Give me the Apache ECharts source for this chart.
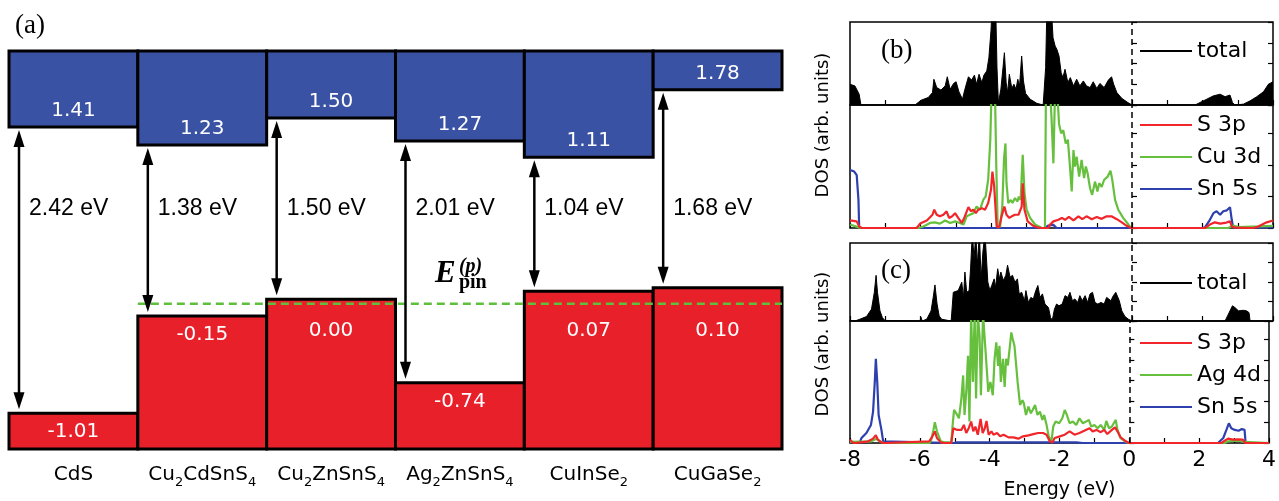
<!DOCTYPE html>
<html>
<head>
<meta charset="utf-8">
<script src="https://cdn.jsdelivr.net/npm/echarts@6/dist/echarts.min.js"></script>
<style>
  html, body { margin: 0; padding: 0; background: #fff; }
  #chart { width: 1279px; height: 501px; }
</style>
</head>
<body>
<div id="chart"></div>
<script>
// ---- panel (a): band alignment ----
const materials = ['CdS', 'Cu2CdSnS4', 'Cu2ZnSnS4', 'Ag2ZnSnS4', 'CuInSe2', 'CuGaSe2'];
const vbm = [-1.01, -0.15, 0.00, -0.74, 0.07, 0.10];
const cbm = [1.41, 1.23, 1.50, 1.27, 1.11, 1.78];
const gaps = [2.42, 1.38, 1.50, 2.01, 1.04, 1.68];
const pinLevel = -0.04;

// ---- panels (b), (c): DOS, [energy eV, DOS arb.] ----
const bTotal = [[-8,1.0],[-7.86,0.92],[-7.74,0.52],[-7.69,0],[-6.16,0],[-5.97,0.24],[-5.78,0.36],[-5.66,0.6],[-5.62,1.24],[-5.54,0.84],[-5.42,0.72],[-5.3,0.92],[-5.24,1.36],[-5.16,0.76],[-5.06,1.04],[-4.99,1.12],[-4.91,0.64],[-4.81,0.28],[-4.74,0.76],[-4.64,1.36],[-4.55,1.2],[-4.47,1.44],[-4.41,1.0],[-4.34,1.48],[-4.26,1.08],[-4.2,1.44],[-4.12,1.64],[-4.06,2.28],[-4.0,3.6],[-3.96,5],[-3.87,5],[-3.83,1.8],[-3.79,0.08],[-3.72,0.76],[-3.66,1.8],[-3.62,2.52],[-3.57,1.08],[-3.53,0.6],[-3.48,1.48],[-3.41,0.8],[-3.35,1.0],[-3.29,0.76],[-3.24,1.24],[-3.19,0.92],[-3.13,2.36],[-3.08,1.16],[-3.02,0.56],[-2.89,0.28],[-2.7,0.08],[-2.52,0],[-2.45,1.8],[-2.41,5],[-2.3,5],[-2.24,3.24],[-2.18,2.84],[-2.13,2.68],[-2.07,2.36],[-2.01,1.56],[-1.96,1.32],[-1.9,1.72],[-1.82,1.08],[-1.75,1.32],[-1.66,0.92],[-1.57,1.24],[-1.48,0.92],[-1.38,1.16],[-1.29,0.92],[-1.19,0.84],[-1.1,1.12],[-1.0,0.8],[-0.91,1.04],[-0.79,0.84],[-0.67,1.2],[-0.58,1.36],[-0.52,1.0],[-0.43,0.6],[-0.29,0.32],[-0.12,0.12],[0,0],[1.79,0],[1.93,0.12],[2.12,0.28],[2.31,0.44],[2.5,0.52],[2.64,0.4],[2.78,0.48],[2.85,0.12],[2.92,0],[3.16,0.04],[3.35,0.2],[3.54,0.4],[3.73,0.64],[3.87,1.0],[4,1.12]];
const bS3p = [[-8,0.24],[-7.81,0.21],[-7.74,0.05],[-7.67,0],[-6.11,0],[-6.01,0.14],[-5.82,0.24],[-5.66,0.42],[-5.61,0.58],[-5.54,0.42],[-5.45,0.37],[-5.35,0.42],[-5.26,0.53],[-5.19,0.32],[-5.1,0.37],[-5.02,0.47],[-4.93,0.32],[-4.83,0.16],[-4.76,0.32],[-4.64,0.66],[-4.57,0.53],[-4.5,0.58],[-4.43,0.47],[-4.36,0.58],[-4.26,0.63],[-4.17,0.58],[-4.08,0.79],[-4.0,1.21],[-3.96,1.79],[-3.91,1.32],[-3.84,0.05],[-3.77,0.02],[-3.7,0.37],[-3.62,0.68],[-3.56,0.42],[-3.48,0.32],[-3.41,0.37],[-3.32,0.42],[-3.22,0.42],[-3.13,0.68],[-3.1,1.42],[-3.05,0.58],[-2.96,0.21],[-2.8,0.07],[-2.66,0.01],[-2.56,0],[-2.37,0],[-2.33,0.1],[-2.23,0.21],[-2.09,0.26],[-1.99,0.32],[-1.9,0.26],[-1.79,0.35],[-1.66,0.24],[-1.52,0.37],[-1.41,0.28],[-1.29,0.37],[-1.14,0.28],[-1.0,0.35],[-0.86,0.29],[-0.72,0.37],[-0.58,0.37],[-0.43,0.28],[-0.29,0.18],[-0.15,0.07],[-0.03,0],[2.07,0],[2.21,0.11],[2.35,0.18],[2.5,0.14],[2.64,0.16],[2.78,0.21],[2.83,0.05],[2.92,0.01],[3.44,0],[3.58,0.05],[3.82,0.18],[4,0.24]];
const bCu3d = [[-8,0.11],[-7.76,0.02],[-7.67,0],[-6.06,0],[-5.92,0.05],[-5.73,0.16],[-5.59,0.18],[-5.45,0.14],[-5.3,0.24],[-5.16,0.16],[-5.02,0.21],[-4.88,0.16],[-4.78,0.11],[-4.69,0.37],[-4.6,0.42],[-4.5,0.47],[-4.41,0.68],[-4.31,0.58],[-4.22,0.89],[-4.15,1.0],[-4.08,1.53],[-4.02,2.8],[-3.98,4.5],[-3.89,4.5],[-3.85,1.95],[-3.81,0.02],[-3.74,0.05],[-3.68,0.68],[-3.63,2.21],[-3.59,2.68],[-3.56,1.42],[-3.51,0.79],[-3.44,0.89],[-3.39,0.79],[-3.32,0.95],[-3.25,0.84],[-3.21,1.0],[-3.16,0.89],[-3.1,2.32],[-3.05,1.11],[-2.99,0.58],[-2.89,0.32],[-2.75,0.11],[-2.56,0],[-2.47,0],[-2.44,4.5],[-2.33,4.5],[-2.28,3.42],[-2.23,2.05],[-2.18,4.5],[-2.12,4.3],[-2.07,3.3],[-2.01,3.0],[-1.95,3.1],[-1.88,2.68],[-1.82,2.8],[-1.76,1.95],[-1.71,1.16],[-1.66,2.47],[-1.62,1.95],[-1.57,2.26],[-1.5,1.63],[-1.43,2.16],[-1.36,1.58],[-1.31,1.95],[-1.26,1.74],[-1.19,1.26],[-1.13,1.05],[-1.05,1.47],[-0.98,1.16],[-0.93,1.42],[-0.86,1.3],[-0.79,1.53],[-0.69,1.63],[-0.61,1.82],[-0.56,1.53],[-0.48,0.89],[-0.39,0.58],[-0.25,0.32],[-0.1,0.11],[-0.03,0],[2.73,0],[2.87,0.08],[3.02,0.03],[3.58,0.05],[4,0.07]];
const bSn5s = [[-8,1.84],[-7.88,1.79],[-7.81,1.68],[-7.76,0.89],[-7.74,0.02],[-7.67,0],[-2.47,0],[-2.37,0.08],[-2.23,0.1],[-2.14,0],[1.98,0],[2.07,0.02],[2.21,0.26],[2.31,0.47],[2.4,0.53],[2.5,0.42],[2.59,0.53],[2.69,0.56],[2.78,0.66],[2.83,0.26],[2.87,0.01],[4,0.02]];

const cTotal = [[-8,0],[-7.86,0],[-7.72,0.09],[-7.53,0.23],[-7.39,0.61],[-7.31,1.47],[-7.26,2.34],[-7.22,1.47],[-7.15,0.52],[-7.08,0.17],[-7.01,0.03],[-6.96,0],[-6.01,0],[-5.99,0.2],[-5.95,0],[-5.82,0.1],[-5.78,0.17],[-5.7,0.52],[-5.64,1.21],[-5.59,1.85],[-5.53,0.87],[-5.47,0.26],[-5.4,0.09],[-5.13,0],[-5.1,0],[-5.07,1.47],[-5.02,1.39],[-4.93,1.56],[-4.88,1.65],[-4.83,1.99],[-4.78,1.21],[-4.74,2.51],[-4.69,1.47],[-4.62,1.56],[-4.58,2.68],[-4.53,4.5],[-4.48,3.2],[-4.43,4.5],[-4.39,2.86],[-4.33,4.5],[-4.28,2.16],[-4.23,3.55],[-4.17,4.5],[-4.12,4.5],[-4.09,2.0],[-4.03,1.56],[-3.98,1.82],[-3.91,2.16],[-3.87,1.73],[-3.81,2.68],[-3.76,2.16],[-3.72,2.51],[-3.65,2.08],[-3.58,2.34],[-3.53,2.86],[-3.46,2.25],[-3.39,2.34],[-3.32,1.99],[-3.25,2.16],[-3.2,1.39],[-3.13,1.47],[-3.05,1.04],[-3.01,1.56],[-2.94,0.95],[-2.87,1.21],[-2.8,1.13],[-2.73,1.56],[-2.67,1.82],[-2.61,1.21],[-2.54,1.39],[-2.47,0.87],[-2.37,0.69],[-2.31,0.17],[-2.26,0.05],[-2.2,0.61],[-2.14,0.87],[-2.07,0.78],[-1.98,0.87],[-1.9,1.3],[-1.82,1.21],[-1.76,1.47],[-1.69,1.04],[-1.62,1.13],[-1.54,0.95],[-1.48,1.3],[-1.41,1.04],[-1.33,1.3],[-1.26,0.95],[-1.19,1.39],[-1.12,1.47],[-1.05,0.95],[-0.97,0.87],[-0.88,0.95],[-0.79,0.87],[-0.72,1.21],[-0.66,1.13],[-0.6,1.04],[-0.53,1.3],[-0.46,1.47],[-0.41,1.56],[-0.36,1.04],[-0.29,0.52],[-0.2,0.23],[-0.1,0.09],[0,0],[2.64,0],[2.71,0.26],[2.78,0.52],[2.85,0.78],[2.92,0.69],[3.02,0.52],[3.16,0.55],[3.25,0.52],[3.32,0.43],[3.35,0],[4,0]];
const cS3p = [[-8,0.16],[-7.93,0.03],[-7.86,0],[-7.48,0.08],[-7.34,0.21],[-7.26,0.37],[-7.2,0.16],[-7.1,0.03],[-7.03,0],[-5.73,0.08],[-5.64,0.32],[-5.57,0.56],[-5.51,0.24],[-5.4,0.03],[-5.3,0],[-5.1,0],[-5.04,0.71],[-4.93,0.63],[-4.81,0.63],[-4.74,0.87],[-4.67,0.48],[-4.6,0.71],[-4.53,1.03],[-4.47,0.56],[-4.41,0.79],[-4.34,0.4],[-4.26,1.16],[-4.2,0.48],[-4.14,0.71],[-4.09,1.06],[-4.03,0.4],[-3.95,0.56],[-3.89,0.4],[-3.79,0.48],[-3.7,0.32],[-3.6,0.4],[-3.46,0.27],[-3.32,0.27],[-3.18,0.21],[-3.04,0.32],[-2.89,0.37],[-2.75,0.43],[-2.61,0.48],[-2.47,0.48],[-2.37,0.4],[-2.28,0.08],[-2.2,0.03],[-2.14,0.24],[-1.99,0.32],[-1.85,0.4],[-1.71,0.56],[-1.57,0.4],[-1.43,0.48],[-1.29,0.59],[-1.14,0.71],[-1.05,0.56],[-0.94,0.63],[-0.82,0.52],[-0.72,0.63],[-0.63,0.43],[-0.5,0.63],[-0.41,0.75],[-0.34,0.56],[-0.25,0.27],[-0.1,0.08],[-0.01,0],[2.64,0],[2.73,0.11],[2.83,0.21],[2.97,0.16],[3.11,0.17],[3.25,0.16],[3.32,0],[4,0]];
const cAg4d = [[-8,0.05],[-7.39,0.08],[-7.24,0.2],[-7.15,0.08],[-7.03,0],[-5.73,0],[-5.68,0.11],[-5.61,0.63],[-5.57,1.0],[-5.51,0.56],[-5.4,0.08],[-5.3,0.03],[-5.1,0.03],[-5.06,0.87],[-5.02,1.59],[-4.93,1.35],[-4.88,1.19],[-4.81,2.14],[-4.76,3.25],[-4.72,1.35],[-4.67,2.46],[-4.62,4.2],[-4.58,1.03],[-4.53,6.2],[-4.48,2.94],[-4.43,6.2],[-4.39,2.14],[-4.34,6.2],[-4.29,5.16],[-4.25,2.3],[-4.19,6.2],[-4.14,6.2],[-4.09,3.73],[-4.04,2.46],[-3.98,2.94],[-3.91,2.3],[-3.86,4.05],[-3.81,4.84],[-3.76,3.71],[-3.72,4.68],[-3.68,2.94],[-3.62,4.05],[-3.57,2.7],[-3.53,4.05],[-3.48,3.73],[-3.43,4.52],[-3.38,5.32],[-3.34,5.0],[-3.29,4.68],[-3.24,3.73],[-3.2,2.94],[-3.13,1.83],[-3.06,2.06],[-3.02,1.9],[-2.96,1.35],[-2.89,1.75],[-2.82,1.43],[-2.77,1.59],[-2.7,1.83],[-2.63,1.35],[-2.56,1.51],[-2.49,1.11],[-2.44,1.35],[-2.37,0.87],[-2.31,0.32],[-2.23,0.08],[-2.18,0.79],[-2.11,1.03],[-2.01,0.95],[-1.92,1.19],[-1.85,1.59],[-1.79,1.35],[-1.71,0.95],[-1.62,1.03],[-1.52,0.87],[-1.43,1.19],[-1.33,0.95],[-1.24,1.03],[-1.16,1.11],[-1.09,0.79],[-1.0,0.87],[-0.91,0.71],[-0.82,0.87],[-0.72,0.63],[-0.66,1.06],[-0.58,0.71],[-0.5,0.79],[-0.43,1.0],[-0.39,1.11],[-0.34,0.63],[-0.25,0.24],[-0.1,0.05],[-0.01,0],[2.73,0],[2.83,0.08],[3.11,0.11],[3.3,0.05],[3.33,0],[4,0]];
const cSn5s = [[-8,0.05],[-7.72,0.03],[-7.67,0.24],[-7.53,0.48],[-7.4,0.87],[-7.34,1.5],[-7.29,2.94],[-7.26,4.05],[-7.22,2.94],[-7.18,1.35],[-7.1,0.63],[-7.05,0.08],[-7.03,0],[-5.02,0],[-4.93,0.03],[-1.52,0.03],[-1.33,0],[2.54,0],[2.69,0.24],[2.78,0.63],[2.85,0.95],[2.92,0.71],[3.02,0.63],[3.13,0.59],[3.22,0.67],[3.3,0.63],[3.33,0],[4,0]];

const BLUE = '#3a52a3', RED = '#e8202a', PIN = '#5fbf3c';
const C_S = '#f0262a', C_D = '#66c03e', C_SN = '#2e3fae';
const SANS = '"DejaVu Sans", sans-serif';
const SERIF = '"Liberation Serif", "DejaVu Serif", serif';

const chart = echarts.init(document.getElementById('chart'), null, { renderer: 'canvas' });

function vbBox(params, api) {
  const i = api.value(0), v = api.value(1);
  const p = api.coord([i, v]);
  const w = api.size([1, 0])[0];
  const cs = params.coordSys;
  const bottom = cs.y + cs.height;
  const ly = Math.max(p[1] + 19, api.coord([i, -0.28])[1]);
  return { type: 'group', children: [
    { type: 'rect', shape: { x: p[0] - w / 2, y: p[1], width: w, height: bottom - p[1] },
      style: { fill: RED, stroke: '#000', lineWidth: 3 } },
    { type: 'text', style: { text: v.toFixed(2), x: p[0], y: ly, align: 'center', verticalAlign: 'middle',
      fill: '#fff', font: '20px ' + SANS } }
  ]};
}

function cbBox(params, api) {
  const i = api.value(0), v = api.value(1);
  const p = api.coord([i, v]);
  const w = api.size([1, 0])[0];
  const cs = params.coordSys;
  return { type: 'group', children: [
    { type: 'rect', shape: { x: p[0] - w / 2, y: cs.y, width: w, height: p[1] - cs.y },
      style: { fill: BLUE, stroke: '#000', lineWidth: 3 } },
    { type: 'text', style: { text: v.toFixed(2), x: p[0], y: p[1] - 16, align: 'center', verticalAlign: 'middle',
      fill: '#fff', font: '20px ' + SANS } }
  ]};
}

// upper half of the gap arrow (hangs from the CBM, yAxis 1) + its label
function arrowUp(params, api) {
  const i = api.value(0), v = api.value(1), g = api.value(2);
  const p = api.coord([i, v]);
  const w = api.size([1, 0])[0];
  const cs = params.coordSys;
  const x = p[0] - w / 2 + 10;
  const tip = p[1] + 3;
  const mid = cs.y + cs.height * 0.5;
  return { type: 'group', children: [
    { type: 'polygon', shape: { points: [[x, tip], [x - 5.5, tip + 17], [x + 5.5, tip + 17]] }, style: { fill: '#000' } },
    { type: 'line', shape: { x1: x, y1: tip + 12, x2: x, y2: mid }, style: { stroke: '#000', lineWidth: 2.5 } },
    { type: 'text', style: { text: g.toFixed(2) + ' eV', x: x + 10, y: cs.y + cs.height * 0.395,
      align: 'left', verticalAlign: 'middle', fill: '#000', font: '23px "Liberation Sans", Arial, sans-serif' } }
  ]};
}

// lower half of the gap arrow (down to the VBM, yAxis 0)
function arrowDown(params, api) {
  const i = api.value(0), v = api.value(1);
  const p = api.coord([i, v]);
  const w = api.size([1, 0])[0];
  const cs = params.coordSys;
  const x = p[0] - w / 2 + 10;
  const tip = p[1] - 4;
  const mid = cs.y + cs.height * 0.5;
  return { type: 'group', children: [
    { type: 'line', shape: { x1: x, y1: mid, x2: x, y2: tip - 12 }, style: { stroke: '#000', lineWidth: 2.5 } },
    { type: 'polygon', shape: { points: [[x, tip], [x - 5.5, tip - 17], [x + 5.5, tip - 17]] }, style: { fill: '#000' } }
  ]};
}

function pinLine(params, api) {
  const v = api.value(1);
  const w = api.size([1, 0])[0];
  const cs = params.coordSys;
  const start = api.coord([1, v]);
  const lab = api.coord([3, v]);
  const ex = lab[0] - 25, ey = lab[1] - 14;
  return { type: 'group', children: [
    { type: 'line', shape: { x1: start[0] - w / 2, y1: start[1], x2: cs.x + cs.width, y2: start[1] },
      style: { stroke: PIN, lineWidth: 2.5, lineDash: [8, 5] } },
    { type: 'text', style: { text: 'E', x: ex, y: ey, align: 'left', verticalAlign: 'bottom',
      fill: '#000', font: 'italic bold 31px ' + SERIF } },
    { type: 'text', style: { text: '(p)', x: ex + 24, y: ey - 13, align: 'left', verticalAlign: 'bottom',
      fill: '#000', font: 'italic bold 20px ' + SERIF } },
    { type: 'text', style: { text: 'pin', x: ex + 24, y: ey + 3, align: 'left', verticalAlign: 'bottom',
      fill: '#000', font: 'bold 20px ' + SERIF } }
  ]};
}

function subLabel(name) {
  return name.split(/(\d)/).filter(Boolean)
    .map(p => /\d/.test(p) ? '{s|' + p + '}' : '{n|' + p + '}').join('');
}

// DOS sub-panels: grid index 1..4
const dosPanels = [
  { top: 22, height: 83, max: 4 },
  { top: 105, height: 123, max: 3.9 },
  { top: 243, height: 78, max: 4 },
  { top: 321, height: 125, max: 5.87 }
];

const grids = [{ left: 9, top: 51, width: 773, height: 398 }]
  .concat(dosPanels.map(d => ({ left: 850, width: 423, top: d.top, height: d.height,
    show: true, borderColor: '#000', borderWidth: 1.5, backgroundColor: 'transparent' })));

const xAxes = [{
  type: 'category', gridIndex: 0, data: materials,
  axisLine: { show: false }, axisTick: { show: false },
  axisLabel: { interval: 0, margin: 14, fontSize: 20, formatter: subLabel, rich: {
    n: { fontSize: 20, fontFamily: SANS, color: '#000', lineHeight: 24 },
    s: { fontSize: 13, fontFamily: SANS, color: '#000', lineHeight: 24, padding: [16, 0, 0, 0] }
  } }
}].concat(dosPanels.map((d, k) => ({
  type: 'value', gridIndex: k + 1, min: -8, max: 4, interval: 1,
  axisLine: { show: false }, splitLine: { show: false },
  axisTick: { inside: true, length: 5, lineStyle: { color: '#000', width: 1.2 } },
  axisLabel: { show: k === 3, margin: 6, fontSize: 22, fontFamily: SANS, color: '#000',
    formatter: v => (v % 2 === 0 ? String(v) : '') },
  name: k === 3 ? 'Energy (eV)' : '', nameLocation: 'middle', nameGap: 38,
  nameTextStyle: { fontSize: 19, fontFamily: SANS, color: '#000' }
})));

const yAxes = [
  // valence-band scale and conduction-band scale of panel (a)
  { type: 'value', gridIndex: 0, min: -1.326, max: 2.196, show: false },
  { type: 'value', gridIndex: 0, min: -1.791, max: 2.165, show: false }
];
dosPanels.forEach((d, k) => {
  ['left', 'right'].forEach(pos => yAxes.push({
    type: 'value', gridIndex: k + 1, position: pos, min: 0, max: d.max, interval: 1,
    axisLine: { show: false }, splitLine: { show: false }, axisLabel: { show: false },
    axisTick: { inside: true, length: 5, lineStyle: { color: '#000', width: 1.2 } }
  }));
});

const zeroLine = {
  silent: true, symbol: 'none', label: { show: false },
  lineStyle: { color: '#000', type: [6, 4], width: 1.5 },
  data: [{ xAxis: 0 }]
};

function dosLine(name, data, color, k, extra) {
  return Object.assign({
    name, type: 'line', data, xAxisIndex: k + 1, yAxisIndex: 2 + 2 * k,
    symbol: 'none', clip: true, lineStyle: { color, width: 2.2 }, itemStyle: { color }
  }, extra || {});
}

const series = [
  { type: 'custom', xAxisIndex: 0, yAxisIndex: 1, renderItem: cbBox,
    data: cbm.map((v, i) => [i, v]), encode: { x: 0, y: 1 } },
  { type: 'custom', xAxisIndex: 0, yAxisIndex: 0, renderItem: vbBox,
    data: vbm.map((v, i) => [i, v]), encode: { x: 0, y: 1 } },
  { type: 'custom', xAxisIndex: 0, yAxisIndex: 0, renderItem: pinLine,
    data: [[1, pinLevel]], encode: { x: 0, y: 1 }, z: 5 },
  { type: 'custom', xAxisIndex: 0, yAxisIndex: 1, renderItem: arrowUp,
    data: cbm.map((v, i) => [i, v, gaps[i]]), encode: { x: 0, y: 1 }, z: 6 },
  { type: 'custom', xAxisIndex: 0, yAxisIndex: 0, renderItem: arrowDown,
    data: vbm.map((v, i) => [i, v]), encode: { x: 0, y: 1 }, z: 6 },

  dosLine('total', bTotal, '#000', 0, { lineStyle: { color: '#000', width: 1 },
    areaStyle: { color: '#000', opacity: 1 }, markLine: zeroLine }),
  dosLine('Sn 5s', bSn5s, C_SN, 1, { markLine: zeroLine }),
  dosLine('Cu 3d', bCu3d, C_D, 1),
  dosLine('S 3p', bS3p, C_S, 1),
  dosLine('total', cTotal, '#000', 2, { lineStyle: { color: '#000', width: 1 },
    areaStyle: { color: '#000', opacity: 1 }, markLine: zeroLine }),
  dosLine('Sn 5s', cSn5s, C_SN, 3, { markLine: zeroLine }),
  dosLine('Ag 4d', cAg4d, C_D, 3),
  dosLine('S 3p', cS3p, C_S, 3)
];

function legendAt(names, top) {
  return {
    data: names, left: 1140, top, orient: 'vertical', padding: 0, itemGap: 8,
    icon: 'rect', itemWidth: 52, itemHeight: 2.2, selectedMode: false,
    textStyle: { fontSize: 22, fontFamily: SANS, color: '#000', lineHeight: 24 }
  };
}

const option = {
  animation: false,
  backgroundColor: '#fff',
  grid: grids,
  xAxis: xAxes,
  yAxis: yAxes,
  legend: [
    legendAt(['total'], 39),
    legendAt(['S 3p', 'Cu 3d', 'Sn 5s'], 113),
    legendAt(['total'], 271),
    legendAt(['S 3p', 'Ag 4d', 'Sn 5s'], 331)
  ],
  graphic: [
    { type: 'text', left: 15, top: 12, style: { text: '(a)', font: '27px ' + SERIF, fill: '#000' } },
    { type: 'text', left: 881, top: 37, style: { text: '(b)', font: '27px ' + SERIF, fill: '#000' } },
    { type: 'text', left: 881, top: 257, style: { text: '(c)', font: '27px ' + SERIF, fill: '#000' } },
    { type: 'text', x: 823, y: 125, rotation: Math.PI / 2,
      style: { text: 'DOS (arb. units)', align: 'center', verticalAlign: 'middle', font: '18px ' + SANS, fill: '#000' } },
    { type: 'text', x: 823, y: 344, rotation: Math.PI / 2,
      style: { text: 'DOS (arb. units)', align: 'center', verticalAlign: 'middle', font: '18px ' + SANS, fill: '#000' } }
  ],
  series
};

chart.setOption(option);

// the E = 0 dashed line also runs through the gap between panels (b) and (c)
const x0 = chart.convertToPixel({ xAxisIndex: 2 }, 0);
const yGapTop = chart.convertToPixel({ yAxisIndex: 4 }, 0);
const yGapBot = chart.convertToPixel({ yAxisIndex: 6 }, 4);
chart.setOption({ graphic: option.graphic.concat([{
  type: 'line', silent: true,
  shape: { x1: x0, y1: yGapTop, x2: x0, y2: yGapBot },
  style: { stroke: '#000', lineWidth: 1.5, lineDash: [6, 4] }
}]) });
</script>
